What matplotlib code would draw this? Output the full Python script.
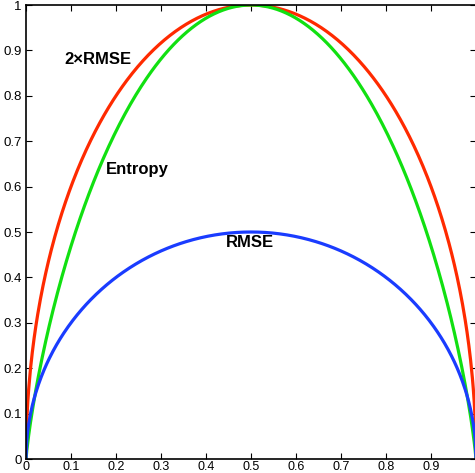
import numpy as np
import matplotlib
matplotlib.use('Agg')
import matplotlib.pyplot as plt

# probability grid and the three impurity curves
p = np.linspace(0, 1, 501)
q = np.clip(p, 1e-12, 1 - 1e-12)
rmse = np.sqrt(p * (1 - p))
rmse2 = 2 * rmse
entropy = -(q * np.log2(q) + (1 - q) * np.log2(1 - q))

xticks = [0, 0.1, 0.2, 0.3, 0.4, 0.5, 0.6, 0.7, 0.8, 0.9]
yticks = [0, 0.1, 0.2, 0.3, 0.4, 0.5, 0.6, 0.7, 0.8, 0.9, 1]
labels = ['2\u00d7RMSE', 'Entropy', 'RMSE']

plt.rcParams['font.family'] = ['Liberation Sans', 'DejaVu Sans']

fig = plt.figure(figsize=(4.75, 4.73), dpi=100)
ax = fig.add_axes([26 / 475, 14 / 473, 450 / 475, 454 / 473])

ax.plot(p, rmse2, color='#ff2a00', lw=2.3)
ax.plot(p, entropy, color='#11e011', lw=2.3)
ax.plot(p, rmse, color='#1a3cff', lw=2.3)

ax.text(0.16, 0.879, labels[0], ha='center', va='center', fontsize=12, fontweight='bold')
ax.text(0.247, 0.637, labels[1], ha='center', va='center', fontsize=12, fontweight='bold')
ax.text(0.498, 0.477, labels[2], ha='center', va='center', fontsize=12, fontweight='bold')

ax.set_xlim(0, 1)
ax.set_ylim(0, 1)
ax.set_xticks(xticks)
ax.set_yticks(yticks)
ax.set_xticklabels(['0', '0.1', '0.2', '0.3', '0.4', '0.5', '0.6', '0.7', '0.8', '0.9'])
ax.set_yticklabels(['0', '0.1', '0.2', '0.3', '0.4', '0.5', '0.6', '0.7', '0.8', '0.9', '1'])
ax.tick_params(direction='in', top=True, right=True, length=4, width=0.8, labelsize=9.5, pad=3)
ax.tick_params(axis='x', pad=1.5, labelsize=9)
for s in ax.spines.values():
    s.set_linewidth(1.2)

fig.savefig('out.png', dpi=100)
